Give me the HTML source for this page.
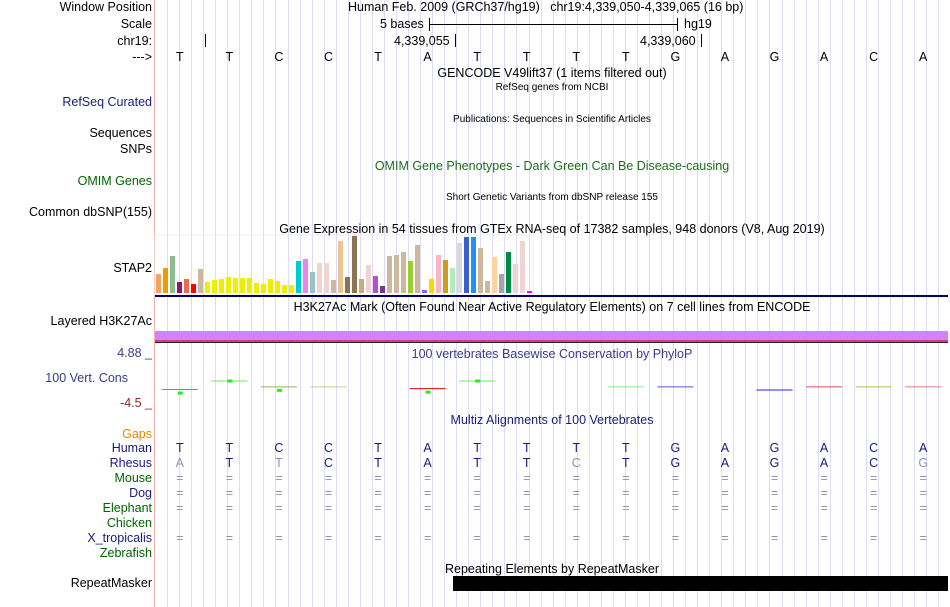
<!DOCTYPE html>
<html><head><meta charset="utf-8">
<style>
body{margin:0;background:#fff;width:950px;height:607px;overflow:hidden;position:relative;font-family:"Liberation Sans",sans-serif;}
.t{position:absolute;white-space:nowrap;font-size:12.5px;line-height:14px;}
.l{right:798px;text-align:right;}
.c{transform:translateX(-50%);}
.s{font-size:10px;}
svg{position:absolute;left:0;top:0;}
</style></head>
<body>
<svg width="950" height="607" id="g"></svg>

<div class="t l" style="top:0px">Window Position</div>
<div class="t l" style="top:17px">Scale</div>
<div class="t l" style="top:34px">chr19:</div>
<div class="t l" style="top:50px">---&gt;</div>
<div class="t l" style="top:95px;color:#1a1a80">RefSeq Curated</div>
<div class="t l" style="top:126px">Sequences</div>
<div class="t l" style="top:142px">SNPs</div>
<div class="t l" style="top:174px;color:#006400">OMIM Genes</div>
<div class="t l" style="top:205px">Common dbSNP(155)</div>
<div class="t l" style="top:261px">STAP2</div>
<div class="t l" style="top:314px">Layered H3K27Ac</div>
<div class="t l" style="top:346px;color:#3a3a8a">4.88 _</div>
<div class="t l" style="top:371px;color:#3a3a8a;right:822px">100 Vert. Cons</div>
<div class="t l" style="top:396px;color:#8b2a2a">-4.5 _</div>
<div class="t l" style="top:427px;color:#e08a00">Gaps</div>
<div class="t l" style="top:441px;color:#1a1a80">Human</div>
<div class="t l" style="top:456px;color:#1a1a80">Rhesus</div>
<div class="t l" style="top:471px;color:#006400">Mouse</div>
<div class="t l" style="top:486px;color:#1a1a80">Dog</div>
<div class="t l" style="top:501px;color:#006400">Elephant</div>
<div class="t l" style="top:516px;color:#006400">Chicken</div>
<div class="t l" style="top:531px;color:#1a1a80">X_tropicalis</div>
<div class="t l" style="top:546px;color:#006400">Zebrafish</div>
<div class="t l" style="top:576px">RepeatMasker</div>

<div class="t" style="top:0;left:348px">Human Feb. 2009 (GRCh37/hg19)&nbsp;&nbsp;&nbsp;chr19:4,339,050-4,339,065 (16 bp)</div>
<div class="t" style="top:17px;left:380px">5 bases</div>
<div class="t" style="top:17px;left:684px">hg19</div>
<div class="t" style="top:34px;left:394px">4,339,055</div>
<div class="t" style="top:34px;left:640px">4,339,060</div>
<div class="t c" style="top:66px;left:552px">GENCODE V49lift37 (1 items filtered out)</div>
<div class="t c s" style="top:81px;left:552px">RefSeq genes from NCBI</div>
<div class="t c s" style="top:113px;left:552px">Publications: Sequences in Scientific Articles</div>
<div class="t c" style="top:159px;left:552px;color:#1f6b1f">OMIM Gene Phenotypes - Dark Green Can Be Disease-causing</div>
<div class="t c s" style="top:191px;left:552px">Short Genetic Variants from dbSNP release 155</div>
<div class="t c" style="top:222px;left:552px">Gene Expression in 54 tissues from GTEx RNA-seq of 17382 samples, 948 donors (V8, Aug 2019)</div>
<div class="t c" style="top:300px;left:552px">H3K27Ac Mark (Often Found Near Active Regulatory Elements) on 7 cell lines from ENCODE</div>
<div class="t c" style="top:347px;left:552px;color:#3a3a8a">100 vertebrates Basewise Conservation by PhyloP</div>
<div class="t c" style="top:413px;left:552px;color:#1a1a80">Multiz Alignments of 100 Vertebrates</div>
<div class="t c" style="top:562px;left:552px">Repeating Elements by RepeatMasker</div>
<div id="txt"></div>

<script>
const bases=["T","T","C","C","T","A","T","T","T","T","G","A","G","A","C","A"];
const rhesus=["A","T","T","C","T","A","T","T","C","T","G","A","G","A","C","G"];
const rhesusMatch=[0,1,0,1,1,1,1,1,0,1,1,1,1,1,1,0];
const gtexValues=[19,25,37,11,14,9,24,11,13,14,16,15,15,15,10,9,14,12,8,8,32,34,21,30,30,13,52,16,57,14,28,17,7,37,38,41,32,48,3,14,38,33,25,50,56,56,45,12,36,19,41,29,52,2];
const gtexColors=["#f4a460","#ee9a00","#8fbc8f","#8b1c62","#ee6a50","#ff0000","#cdb79e","#eeee00","#eeee00","#eeee00","#eeee00","#eeee00","#eeee00","#eeee00","#eeee00","#eeee00","#eeee00","#eeee00","#eeee00","#eeee00","#00cdcd","#ee82ee","#9ac0cd","#eed5d2","#eed5d2","#cdb79e","#eec591","#8b7355","#8b7355","#cdaa7d","#eed5d2","#b452cd","#7a378b","#cdb79e","#cdb79e","#cdb79e","#9acd32","#cdb79e","#7b68ee","#ffd700","#ffb6c1","#cd9b1d","#b4eeb4","#d9d9d9","#3a5fcd","#1e90ff","#cdb79e","#cdb79e","#ffd39b","#a6a6a6","#008b45","#eed5d2","#eed5d2","#ff00ff"];
const phylopVals=[-0.9,1.0,-0.3,-0.3,0,-0.7,1.0,0,0,-0.3,-0.3,0,-1.0,-0.3,-0.3,-0.3];
const phylopColors=["#e06060","#66ee66","#aaaa55","#cccc88","none","#ee0000","#66ee66","none","none","#88ee88","#5555ee","none","#2222ee","#ee4444","#bbbb44","#ee7777"];

const NS="http://www.w3.org/2000/svg";
const g=document.getElementById('g');
const txt=document.getElementById('txt');
function mk(tag,attrs){const e=document.createElementNS(NS,tag);for(const k in attrs)e.setAttribute(k,attrs[k]);g.appendChild(e);return e;}
const x0=155,bw=(948-155)/16;
function bx(i){return x0+bw*(i+0.5);}
for(let x=167;x<949;x+=12.05){
  const l=mk('line',{x1:Math.round(x)+.5,x2:Math.round(x)+.5,y1:0,y2:607,stroke:'#dcdcf4','stroke-width':1});
  
  
}
const sep=mk('line',{x1:154.5,x2:154.5,y1:0,y2:607,stroke:'#f4b0b0'});


mk('line',{x1:429,x2:677,y1:24.5,y2:24.5,stroke:'#000'});
mk('line',{x1:429.5,x2:429.5,y1:18,y2:31,stroke:'#000'});
mk('line',{x1:677.5,x2:677.5,y1:18,y2:31,stroke:'#000'});
[205,455,701].forEach(x=>mk('line',{x1:x+.5,x2:x+.5,y1:34,y2:47,stroke:'#000'}));
function letter(i,y,ch,color,name){
  const d=document.createElement('div');
  d.className='t c';d.style.top=y+'px';d.style.left=bx(i)+'px';d.style.color=color;d.textContent=ch;
  
  
  txt.appendChild(d);
}
bases.forEach((b,i)=>{
  letter(i,50,b,'#000','ref-base');
  letter(i,441,b,'#1a1a80','human-base');
  letter(i,456,rhesus[i],rhesusMatch[i]?'#1a1a80':'#9090b8','rhesus-base');
  [471,486,501,531].forEach(y=>letter(i,y,'=','#9090b8','match-mark'));
});
const base=293,scale=1;
gtexValues.forEach((v,i)=>{
  const r=mk('rect',{x:156+i*7,y:base-v*scale,width:5,height:v*scale,fill:gtexColors[i]});
  
  
});
mk('rect',{x:155,y:235,width:378,height:60,fill:'none',stroke:'#eeeeee'});
mk('rect',{x:155,y:295,width:793,height:2,fill:'#000066'});
mk('rect',{x:155,y:331,width:793,height:9,fill:'#d580ff'});
mk('rect',{x:155,y:340,width:793,height:2,fill:'#d04080'});
mk('rect',{x:155,y:342,width:793,height:1,fill:'#222'});
function py(v){return 385.5-v*4.5;}
phylopVals.forEach((v,i)=>{
  if(phylopColors[i]==='none')return;
  const cx=bx(i);
  const ln=mk('line',{x1:cx-18,x2:cx+18,y1:py(v),y2:py(v),stroke:phylopColors[i],'stroke-width':1});
  
  
  if(v>0.5||i===0||i===2||i===5) mk('rect',{x:cx-2,y:py(v)+(v>0?-1.5:2),width:5,height:3,fill:'#22ee22'});
});
const rm=mk('rect',{x:453,y:576,width:495,height:15,fill:'#000'});


</script>
</body></html>
